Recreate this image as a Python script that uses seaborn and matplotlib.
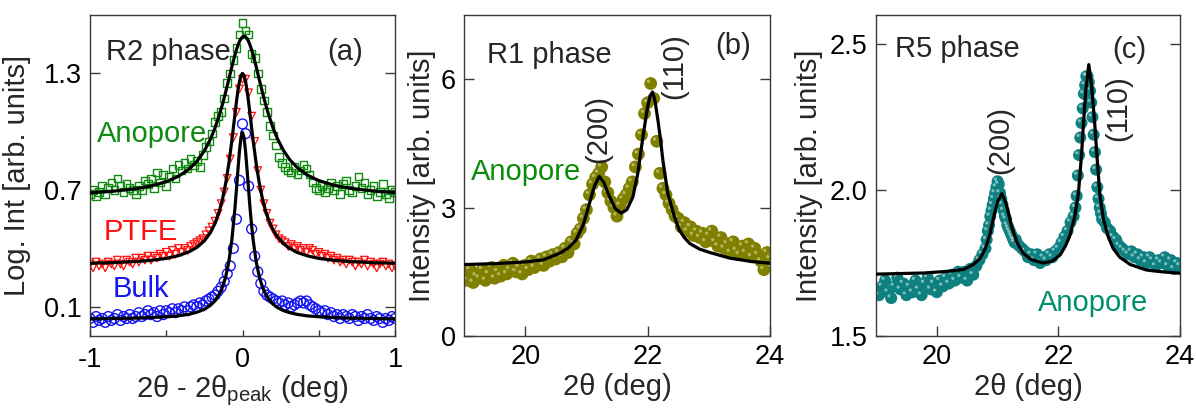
import numpy as np
import pandas as pd
import matplotlib
matplotlib.use("Agg")
import matplotlib.pyplot as plt
import matplotlib.transforms as mtransforms
import seaborn as sns

sns.set_theme(style="white")
plt.rcParams['font.family'] = ['Liberation Sans', 'DejaVu Sans']
plt.rcParams['mathtext.fontset'] = 'custom'
plt.rcParams['mathtext.rm'] = 'Liberation Sans'
plt.rcParams['mathtext.it'] = 'Liberation Sans'

# ---------------- Panel (a): R2 phase ----------------
ang_a = [-1.00, -0.98, -0.96, -0.94, -0.92, -0.90, -0.88, -0.86, -0.84, -0.82,
         -0.80, -0.78, -0.76, -0.74, -0.72, -0.70, -0.68, -0.66, -0.64, -0.62,
         -0.60, -0.58, -0.56, -0.54, -0.52, -0.50, -0.48, -0.46, -0.44, -0.42,
         -0.40, -0.38, -0.36, -0.34, -0.32, -0.30, -0.28, -0.26, -0.24, -0.22,
         -0.20, -0.18, -0.16, -0.14, -0.12, -0.10, -0.08, -0.06, -0.04, -0.02,
         0.00, 0.02, 0.04, 0.06, 0.08, 0.10, 0.12, 0.14, 0.16, 0.18,
         0.20, 0.22, 0.24, 0.26, 0.28, 0.30, 0.32, 0.34, 0.36, 0.38,
         0.40, 0.42, 0.44, 0.46, 0.48, 0.50, 0.52, 0.54, 0.56, 0.58,
         0.60, 0.62, 0.64, 0.66, 0.68, 0.70, 0.72, 0.74, 0.76, 0.78,
         0.80, 0.82, 0.84, 0.86, 0.88, 0.90, 0.92, 0.94, 0.96, 0.98, 1.00]

anopore_a = [0.68, 0.70, 0.67, 0.69, 0.72, 0.68, 0.71, 0.74, 0.70, 0.76,
             0.72, 0.69, 0.73, 0.71, 0.70, 0.68, 0.72, 0.70, 0.75, 0.73,
             0.76, 0.71, 0.79, 0.74, 0.78, 0.72, 0.77, 0.81, 0.76, 0.83,
             0.80, 0.84, 0.81, 0.86, 0.83, 0.85, 0.82, 0.88, 0.92, 0.95,
             0.99, 1.05, 1.08, 1.10, 1.17, 1.25, 1.30, 1.37, 1.43, 1.50,
             1.56, 1.52, 1.50, 1.40, 1.38, 1.30, 1.22, 1.16, 1.10, 1.03,
             0.98, 0.93, 0.87, 0.84, 0.82, 0.80, 0.79, 0.82, 0.78, 0.80,
             0.83, 0.81, 0.78, 0.74, 0.71, 0.70, 0.72, 0.69, 0.71, 0.74,
             0.70, 0.72, 0.68, 0.73, 0.75, 0.70, 0.69, 0.72, 0.77, 0.71,
             0.74, 0.68, 0.70, 0.72, 0.67, 0.69, 0.73, 0.68, 0.66, 0.70, 0.69]

ptfe_a = [0.32, 0.30, 0.33, 0.31, 0.32, 0.30, 0.33, 0.32, 0.31, 0.34,
          0.32, 0.31, 0.34, 0.33, 0.32, 0.35, 0.33, 0.35, 0.34, 0.36,
          0.34, 0.36, 0.35, 0.37, 0.36, 0.38, 0.36, 0.39, 0.37, 0.40,
          0.38, 0.40, 0.39, 0.41, 0.42, 0.43, 0.44, 0.45, 0.47, 0.49,
          0.51, 0.54, 0.58, 0.63, 0.69, 0.76, 0.86, 0.97, 1.10, 1.22,
          1.27, 1.27, 1.20, 1.08, 0.95, 0.80, 0.70, 0.63, 0.58, 0.53,
          0.50, 0.47, 0.45, 0.44, 0.43, 0.41, 0.42, 0.40, 0.41, 0.39,
          0.40, 0.38, 0.40, 0.39, 0.37, 0.38, 0.36, 0.37, 0.35, 0.36,
          0.34, 0.35, 0.33, 0.34, 0.32, 0.34, 0.33, 0.31, 0.33, 0.32,
          0.34, 0.31, 0.33, 0.32, 0.30, 0.32, 0.33, 0.31, 0.32, 0.30, 0.31]

bulk_a = [0.04, 0.02, 0.05, 0.03, 0.04, 0.02, 0.05, 0.03, 0.04, 0.06,
          0.03, 0.05, 0.04, 0.06, 0.04, 0.05, 0.07, 0.05, 0.06, 0.08,
          0.06, 0.07, 0.05, 0.08, 0.06, 0.08, 0.07, 0.09, 0.07, 0.09,
          0.08, 0.10, 0.08, 0.10, 0.11, 0.10, 0.12, 0.11, 0.13, 0.14,
          0.15, 0.16, 0.18, 0.20, 0.23, 0.27, 0.31, 0.40, 0.55, 0.75,
          1.04, 0.99, 0.72, 0.50, 0.36, 0.28, 0.22, 0.18, 0.16, 0.15,
          0.14, 0.13, 0.12, 0.13, 0.11, 0.12, 0.10, 0.11, 0.12, 0.13,
          0.12, 0.13, 0.11, 0.10, 0.09, 0.08, 0.07, 0.08, 0.06, 0.07,
          0.05, 0.06, 0.04, 0.06, 0.05, 0.04, 0.06, 0.05, 0.03, 0.05,
          0.04, 0.06, 0.04, 0.03, 0.05, 0.04, 0.02, 0.04, 0.03, 0.05, 0.04]

fit_ang_a = [-1.0, -0.85, -0.7, -0.6, -0.5, -0.42, -0.35, -0.3, -0.25, -0.21,
             -0.18, -0.15, -0.13, -0.11, -0.09, -0.07, -0.05, -0.04, -0.03, -0.02,
             -0.01, 0.0, 0.01, 0.02, 0.03, 0.04, 0.05, 0.06, 0.07, 0.09,
             0.11, 0.13, 0.15, 0.17, 0.2, 0.23, 0.27, 0.31, 0.36, 0.43,
             0.5, 0.6, 0.7, 0.85, 1.0]
fit_anopore_a = [0.686, 0.694, 0.707, 0.721, 0.743, 0.771, 0.808, 0.847, 0.902, 0.962,
                 1.020, 1.090, 1.145, 1.205, 1.268, 1.333, 1.394, 1.421, 1.444, 1.464,
                 1.478, 1.487, 1.490, 1.487, 1.478, 1.464, 1.444, 1.421, 1.394, 1.333,
                 1.268, 1.205, 1.145, 1.090, 1.020, 0.962, 0.902, 0.856, 0.815, 0.775,
                 0.749, 0.725, 0.710, 0.696, 0.687]
fit_ptfe_a = [0.324, 0.327, 0.333, 0.339, 0.349, 0.363, 0.383, 0.405, 0.439, 0.482,
              0.530, 0.597, 0.658, 0.736, 0.834, 0.953, 1.086, 1.152, 1.211, 1.258,
              1.289, 1.300, 1.289, 1.258, 1.211, 1.152, 1.086, 1.019, 0.953, 0.834,
              0.736, 0.658, 0.597, 0.550, 0.496, 0.459, 0.424, 0.400, 0.379, 0.361,
              0.349, 0.339, 0.333, 0.327, 0.324]
fit_bulk_a = [0.038, 0.040, 0.042, 0.045, 0.049, 0.054, 0.062, 0.072, 0.087, 0.108,
              0.131, 0.168, 0.204, 0.255, 0.331, 0.442, 0.602, 0.701, 0.804, 0.900,
              0.970, 0.996, 0.970, 0.900, 0.804, 0.701, 0.602, 0.516, 0.442, 0.331,
              0.255, 0.204, 0.168, 0.141, 0.114, 0.096, 0.080, 0.070, 0.061, 0.053,
              0.049, 0.045, 0.042, 0.040, 0.038]

# ---------------- Panel (b): R1 phase ----------------
ang_b = [19.00, 19.05, 19.10, 19.15, 19.20, 19.25, 19.30, 19.35, 19.40, 19.45,
         19.50, 19.55, 19.60, 19.65, 19.70, 19.75, 19.80, 19.85, 19.90, 19.95,
         20.00, 20.05, 20.10, 20.15, 20.20, 20.25, 20.30, 20.35, 20.40, 20.45,
         20.50, 20.55, 20.60, 20.65, 20.70, 20.75, 20.80, 20.85, 20.90, 20.95,
         21.00, 21.05, 21.10, 21.15, 21.20, 21.25, 21.30, 21.35, 21.40, 21.45,
         21.50, 21.55, 21.60, 21.65, 21.70, 21.75, 21.80, 21.85, 21.90, 21.95,
         22.00, 22.05, 22.10, 22.15, 22.20, 22.25, 22.30, 22.35, 22.40, 22.45,
         22.50, 22.55, 22.60, 22.65, 22.70, 22.75, 22.80, 22.85, 22.90, 22.95,
         23.00, 23.05, 23.10, 23.15, 23.20, 23.25, 23.30, 23.35, 23.40, 23.45,
         23.50, 23.55, 23.60, 23.65, 23.70, 23.75, 23.80, 23.85, 23.90, 23.95, 24.00]
int_b = [1.45, 1.30, 1.55, 1.25, 1.40, 1.35, 1.55, 1.30, 1.45, 1.60,
         1.35, 1.50, 1.40, 1.65, 1.45, 1.55, 1.70, 1.50, 1.60, 1.45,
         1.65, 1.55, 1.75, 1.60, 1.70, 1.80, 1.65, 1.85, 1.75, 1.90,
         1.80, 1.95, 1.85, 2.05, 1.95, 2.20, 2.15, 2.40, 2.50, 2.75,
         2.95, 3.30, 3.55, 3.70, 3.80, 3.95, 3.60, 3.35, 3.15, 3.00,
         2.80, 3.05, 3.20, 3.30, 3.45, 3.60, 3.95, 4.25, 4.70, 5.20,
         5.45, 5.90, 5.55, 4.55, 3.80, 3.45, 3.30, 3.10, 2.95, 2.80,
         2.75, 2.55, 2.65, 2.45, 2.55, 2.35, 2.45, 2.30, 2.40, 2.20,
         2.35, 2.45, 2.20, 2.10, 2.30, 2.05, 2.15, 1.95, 2.20, 2.00,
         1.90, 2.10, 1.95, 2.15, 1.85, 2.05, 1.90, 1.75, 1.55, 1.95, 1.80]
fit_ang_b = [19.0, 19.5, 20.0, 20.3, 20.56, 20.7, 20.83, 20.95, 21.05, 21.13,
             21.21, 21.28, 21.38, 21.47, 21.57, 21.66, 21.76, 21.84, 21.9, 21.95,
             22.0, 22.04, 22.08, 22.12, 22.17, 22.21, 22.25, 22.33, 22.44, 22.52,
             22.6, 22.69, 22.85, 23.02, 23.34, 23.7, 24.0]
fit_int_b = [1.67, 1.69, 1.73, 1.78, 1.93, 2.05, 2.24, 2.60, 3.10, 3.50,
             3.73, 3.60, 3.25, 2.98, 2.87, 2.95, 3.25, 3.80, 4.41, 4.90,
             5.35, 5.60, 5.70, 5.50, 5.03, 4.60, 4.10, 3.33, 2.78, 2.47,
             2.30, 2.16, 2.03, 1.95, 1.82, 1.74, 1.70]

# ---------------- Panel (c): R5 phase ----------------
ang_c = [19.00, 19.05, 19.10, 19.15, 19.20, 19.25, 19.30, 19.35, 19.40, 19.45,
         19.50, 19.55, 19.60, 19.65, 19.70, 19.75, 19.80, 19.85, 19.90, 19.95,
         20.00, 20.05, 20.10, 20.15, 20.20, 20.25, 20.30, 20.35, 20.40, 20.45,
         20.50, 20.55, 20.60, 20.65, 20.70, 20.75, 20.80,
         20.82, 20.84, 20.86, 20.88, 20.90, 20.92, 20.94, 20.96, 20.98, 21.00,
         21.02, 21.04, 21.06, 21.08, 21.10, 21.12, 21.14, 21.16, 21.18, 21.20,
         21.22, 21.24, 21.26, 21.28, 21.30,
         21.35, 21.40, 21.45, 21.50, 21.55, 21.60, 21.65, 21.70, 21.75, 21.80,
         21.85, 21.90, 21.95, 22.00, 22.05, 22.10, 22.15, 22.20, 22.25,
         22.28, 22.30, 22.32, 22.34, 22.36, 22.38, 22.40, 22.42, 22.44, 22.46,
         22.48, 22.50, 22.52, 22.54, 22.56, 22.58, 22.60, 22.62, 22.64, 22.66,
         22.68, 22.70, 22.72,
         22.76, 22.80, 22.85, 22.90, 22.95, 23.00, 23.05, 23.10, 23.15, 23.20,
         23.25, 23.30, 23.35, 23.40, 23.45, 23.50, 23.55, 23.60, 23.65, 23.70,
         23.75, 23.80, 23.85, 23.90, 23.95, 24.00]
int_c = [1.66, 1.64, 1.67, 1.69, 1.65, 1.63, 1.67, 1.70, 1.66, 1.68,
         1.64, 1.67, 1.65, 1.69, 1.66, 1.64, 1.68, 1.70, 1.66, 1.68,
         1.65, 1.69, 1.67, 1.70, 1.68, 1.71, 1.69, 1.72, 1.70, 1.72,
         1.69, 1.73, 1.71, 1.74, 1.76, 1.78, 1.80,
         1.83, 1.86, 1.88, 1.91, 1.93, 1.95, 1.97, 1.99, 2.01, 2.03,
         2.02, 1.99, 1.97, 1.95, 1.93, 1.91, 1.90, 1.88, 1.87, 1.86,
         1.85, 1.84, 1.83, 1.82, 1.83,
         1.81, 1.80, 1.79, 1.77, 1.78, 1.76, 1.78, 1.75, 1.77, 1.76,
         1.78, 1.77, 1.79, 1.80, 1.82, 1.84, 1.86, 1.89, 1.91,
         1.94, 1.98, 2.05, 2.12, 2.18, 2.23, 2.28, 2.33, 2.36, 2.39,
         2.39, 2.37, 2.34, 2.30, 2.25, 2.19, 2.13, 2.07, 2.01, 1.97,
         1.94, 1.92, 1.90,
         1.89, 1.87, 1.86, 1.84, 1.83, 1.81, 1.80, 1.79, 1.78, 1.79,
         1.77, 1.78, 1.76, 1.77, 1.75, 1.77, 1.76, 1.74, 1.76, 1.75,
         1.77, 1.74, 1.76, 1.73, 1.75, 1.74]
fit_ang_c = [19.0, 19.8, 20.2, 20.44, 20.6, 20.71, 20.8, 20.875, 20.95, 21.0,
             21.07, 21.13, 21.18, 21.23, 21.32, 21.42, 21.55, 21.75, 21.9, 22.03,
             22.12, 22.19, 22.27, 22.33, 22.38, 22.41, 22.45, 22.5, 22.55, 22.6,
             22.64, 22.68, 22.74, 22.82, 22.9, 23.01, 23.18, 23.45, 23.7, 24.0]
fit_int_c = [1.712, 1.716, 1.722, 1.728, 1.745, 1.765, 1.800, 1.850, 1.920, 1.960,
             1.988, 1.960, 1.920, 1.875, 1.820, 1.784, 1.762, 1.750, 1.757, 1.778,
             1.810, 1.845, 1.910, 1.990, 2.120, 2.220, 2.340, 2.430, 2.350, 2.220,
             2.100, 1.990, 1.900, 1.840, 1.800, 1.770, 1.745, 1.726, 1.720, 1.715]

# ---------------- Figure ----------------
W, H = 11.96, 4.09
fig = plt.figure(figsize=(W, H), dpi=100)
bot, hgt = 1 - 336 / 409, (336 - 15) / 409
ax_a = fig.add_axes([90 / 1196, bot, 305 / 1196, hgt])
ax_b = fig.add_axes([464 / 1196, bot, 306 / 1196, hgt])
ax_c = fig.add_axes([876 / 1196, bot, 304 / 1196, hgt])

TICK_FS = 19.5
LAB_FS = 21

def style_axes(ax):
    for sp in ax.spines.values():
        sp.set_color('#3a3a3a')
        sp.set_linewidth(1.0)
    ax.tick_params(direction='in', length=7, width=1, colors='#3a3a3a',
                   labelcolor='black', labelsize=TICK_FS, pad=6,
                   left=True, right=True, bottom=True, top=False)

def open_scatter(ax, x, y, marker, color, size, lw):
    df = pd.DataFrame({'x': x, 'y': y})
    sns.scatterplot(data=df, x='x', y='y', ax=ax, marker=marker, s=size,
                    facecolor='none', edgecolor=color, linewidth=lw, legend=False)
    pc = ax.collections[-1]
    pc.set_facecolor('none')
    pc.set_edgecolor(color)
    pc.set_linewidth(lw)

def sphere_scatter(ax, x, y, color, hl, size):
    df = pd.DataFrame({'x': x, 'y': y})
    sns.scatterplot(data=df, x='x', y='y', ax=ax, s=size, color=color,
                    edgecolor='none', linewidth=0, legend=False, zorder=2)
    off = mtransforms.offset_copy(ax.transData, fig=fig, x=-1.6, y=1.6, units='points')
    ax.scatter(x, y, s=size * 0.07, color=hl, edgecolor='none', transform=off,
               zorder=2.1, alpha=0.6)

def fit_line(ax, x, y):
    df = pd.DataFrame({'x': x, 'y': y})
    sns.lineplot(data=df, x='x', y='y', ax=ax, color='black', linewidth=2.3,
                 sort=True, estimator=None, zorder=3)

# Panel (a)
open_scatter(ax_a, ang_a, anopore_a, 's', '#108a10', 30, 1.0)
open_scatter(ax_a, ang_a, ptfe_a, 'v', '#ff1010', 30, 0.9)
open_scatter(ax_a, ang_a, bulk_a, 'o', '#1414f0', 50, 1.0)
fit_line(ax_a, fit_ang_a, fit_anopore_a)
fit_line(ax_a, fit_ang_a, fit_ptfe_a)
fit_line(ax_a, fit_ang_a, fit_bulk_a)
ax_a.set_xlim(-1, 1)
ax_a.set_ylim(-0.05, 1.60)
ax_a.set_xticks([-1, -0.5, 0, 0.5, 1])
ax_a.set_xticklabels(['-1', '', '0', '', '1'])
ax_a.set_yticks([0.1, 0.7, 1.3])
ax_a.set_yticklabels(['0.1', '0.7', '1.3'])
style_axes(ax_a)
ax_a.tick_params(axis='x', length=4, pad=8)
ax_a.set_xlabel(r'2θ - 2θ$_{\rm peak}$ (deg)', fontsize=LAB_FS, labelpad=0)
ax_a.set_ylabel('Log. Int [arb. units]', fontsize=LAB_FS, labelpad=9)
ax_a.text(-0.895, 1.41, 'R2 phase', fontsize=LAB_FS, ha='left', va='center')
ax_a.text(0.672, 1.41, '(a)', fontsize=LAB_FS, ha='center', va='center')
ax_a.text(-0.954, 0.986, 'Anopore', fontsize=LAB_FS, color='#108a10', ha='left', va='center')
ax_a.text(-0.908, 0.486, 'PTFE', fontsize=LAB_FS, color='#ff1010', ha='left', va='center')
ax_a.text(-0.849, 0.192, 'Bulk', fontsize=LAB_FS, color='#1414f0', ha='left', va='center')

# Panel (b)
sphere_scatter(ax_b, ang_b, int_b, '#7f7f00', '#d8d8a0', 85)
fit_line(ax_b, fit_ang_b, fit_int_b)
ax_b.set_xlim(19, 24)
ax_b.set_ylim(0, 7.5)
ax_b.set_xticks([20, 22, 24])
ax_b.set_yticks([0, 3, 6])
style_axes(ax_b)
ax_b.set_xlabel('2θ (deg)', fontsize=LAB_FS, labelpad=2)
ax_b.set_ylabel('Intensity [arb. units]', fontsize=LAB_FS, labelpad=3)
ax_b.text(19.38, 6.57, 'R1 phase', fontsize=LAB_FS, ha='left', va='center')
ax_b.text(23.39, 6.77, '(b)', fontsize=LAB_FS, ha='center', va='center')
ax_b.text(21.2, 4.84, '(200)', fontsize=LAB_FS, rotation=90, ha='center', va='center')
ax_b.text(22.44, 6.3, '(110)', fontsize=LAB_FS, rotation=90, ha='center', va='center')
ax_b.text(19.11, 3.83, 'Anopore', fontsize=LAB_FS, color='#0a8c0a', ha='left', va='center')

# Panel (c)
sphere_scatter(ax_c, ang_c, int_c, '#0f8080', '#c8e6e6', 75)
fit_line(ax_c, fit_ang_c, fit_int_c)
ax_c.set_xlim(19, 24)
ax_c.set_ylim(1.5, 2.6)
ax_c.set_xticks([20, 22, 24])
ax_c.set_yticks([1.5, 2.0, 2.5])
ax_c.set_yticklabels(['1.5', '2.0', '2.5'])
style_axes(ax_c)
ax_c.set_xlabel('2θ (deg)', fontsize=LAB_FS, labelpad=2)
ax_c.set_ylabel('Intensity [arb. units]', fontsize=LAB_FS, labelpad=5)
ax_c.text(19.31, 2.483, 'R5 phase', fontsize=LAB_FS, ha='left', va='center')
ax_c.text(23.16, 2.48, '(c)', fontsize=LAB_FS, ha='center', va='center')
ax_c.text(21.04, 2.171, '(200)', fontsize=LAB_FS, rotation=90, ha='center', va='center')
ax_c.text(22.99, 2.28, '(110)', fontsize=LAB_FS, rotation=90, ha='center', va='center')
ax_c.text(21.66, 1.613, 'Anopore', fontsize=LAB_FS, color='#00906a', ha='left', va='center')

fig.savefig('out.png', dpi=100)
